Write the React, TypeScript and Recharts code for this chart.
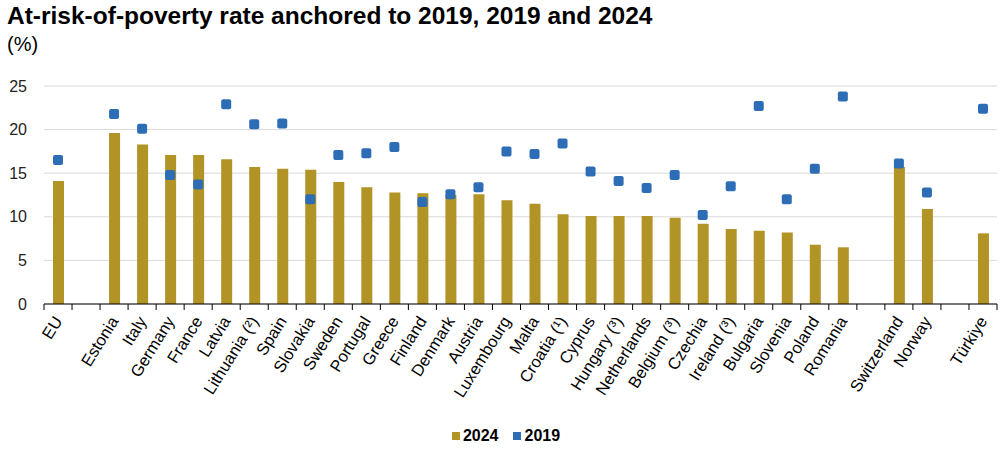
import { ComposedChart, Bar, Line, XAxis, YAxis, CartesianGrid } from 'recharts'

// categories, with empty slots as gaps between groups
const categories = [
  'EU', '', 'Estonia', 'Italy', 'Germany', 'France', 'Latvia', 'Lithuania (²)', 'Spain',
  'Slovakia', 'Sweden', 'Portugal', 'Greece', 'Finland', 'Denmark', 'Austria', 'Luxembourg',
  'Malta', 'Croatia (¹)', 'Cyprus', 'Hungary (³)', 'Netherlands', 'Belgium (³)', 'Czechia',
  'Ireland (³)', 'Bulgaria', 'Slovenia', 'Poland', 'Romania', '', 'Switzerland', 'Norway', '',
  'Türkiye',
]

const values2024 = [
  14.1, null, 19.6, 18.3, 17.1, 17.1, 16.6, 15.7, 15.5,
  15.4, 14.0, 13.4, 12.8, 12.7, 12.5, 12.6, 11.9,
  11.5, 10.3, 10.1, 10.1, 10.1, 9.9, 9.2,
  8.6, 8.4, 8.2, 6.8, 6.5, null, 15.7, 10.9, null,
  8.1,
]

const values2019 = [
  16.5, null, 21.8, 20.1, 14.8, 13.7, 22.9, 20.6, 20.7,
  12.0, 17.1, 17.3, 18.0, 11.7, 12.6, 13.4, 17.5,
  17.2, 18.4, 15.2, 14.1, 13.3, 14.8, 10.2,
  13.5, 22.7, 12.0, 15.5, 23.8, null, 16.1, 12.8, null,
  22.4,
]

const yTicks = [0, 5, 10, 15, 20, 25]

const data = categories.map((name, i) => ({
  name,
  y2024: values2024[i],
  y2019: values2019[i],
}))

const W = 1004
const H = 462
const MARGIN = { top: 86, right: 7, left: 0, bottom: 0 }
const Y_W = 44
const X_H = H - 304 - MARGIN.bottom
const BAND = (W - Y_W - MARGIN.left - MARGIN.right) / categories.length

const GOLD = '#B19326'
const BLUE = '#2D6DB5'
const FONT = '"Liberation Sans", Arial, sans-serif'

function XTick(props: any) {
  const { x, y, payload, index } = props
  const half = BAND / 2
  const last = index === categories.length - 1
  return (
    <g>
      <line x1={x - half} x2={x - half} y1={y} y2={y + 6} stroke="#000" />
      {last && <line x1={x + half} x2={x + half} y1={y} y2={y + 6} stroke="#000" />}
      {payload.value && (
        <text
          transform={`translate(${x + 5},${y + 17}) rotate(-58)`}
          textAnchor="end"
          fontSize={16.5}
          fontFamily={FONT}
          fill="#000"
        >
          {payload.value}
        </text>
      )}
    </g>
  )
}

function SquareDot(props: any) {
  const { cx, cy, value } = props
  if (value == null || cy == null || isNaN(cy)) return <g />
  return <rect x={cx - 5} y={cy - 5} width={10} height={10} rx={2} fill={BLUE} />
}

export default function App() {
  return (
    <div style={{ position: 'absolute', left: 0, top: 0, width: W, height: H, background: '#fff', fontFamily: FONT }}>
      <div style={{ position: 'absolute', left: 7, top: 2, fontSize: 24.5, fontWeight: 'bold', color: '#000', whiteSpace: 'nowrap' }}>
        At-risk-of-poverty rate anchored to 2019, 2019 and 2024
      </div>
      <div style={{ position: 'absolute', left: 7, top: 33, fontSize: 20, color: '#000' }}>(%)</div>

      <ComposedChart width={W} height={H} data={data} margin={MARGIN} barGap={0}>
        <CartesianGrid vertical={false} stroke="#d9d9d9" />
        <XAxis
          dataKey="name"
          interval={0}
          height={X_H}
          tick={<XTick />}
          tickLine={false}
          tickSize={0}
          tickMargin={0}
          axisLine={{ stroke: '#000' }}
        />
        <YAxis
          width={Y_W}
          domain={[0, 25]}
          ticks={yTicks}
          axisLine={false}
          tickLine={false}
          tickSize={14}
          tickMargin={3}
          tick={{ fontSize: 16, fill: '#222', fontFamily: FONT }}
        />
        <Bar dataKey="y2024" fill={GOLD} barSize={11} isAnimationActive={false} />
        <Line
          dataKey="y2019"
          stroke="none"
          strokeWidth={0}
          dot={<SquareDot />}
          activeDot={false}
          isAnimationActive={false}
        />
      </ComposedChart>

      <div style={{ position: 'absolute', top: 427, left: 0, width: W, display: 'flex', justifyContent: 'center', fontSize: 16, fontWeight: 'bold', color: '#000' }}>
        <div style={{ display: 'flex', alignItems: 'center', marginRight: 14, marginLeft: 8 }}>
          <span style={{ width: 8, height: 8, background: GOLD, display: 'inline-block', marginRight: 3 }} />
          2024
        </div>
        <div style={{ display: 'flex', alignItems: 'center' }}>
          <span style={{ width: 8, height: 8, background: BLUE, display: 'inline-block', marginRight: 4 }} />
          2019
        </div>
      </div>
    </div>
  )
}
